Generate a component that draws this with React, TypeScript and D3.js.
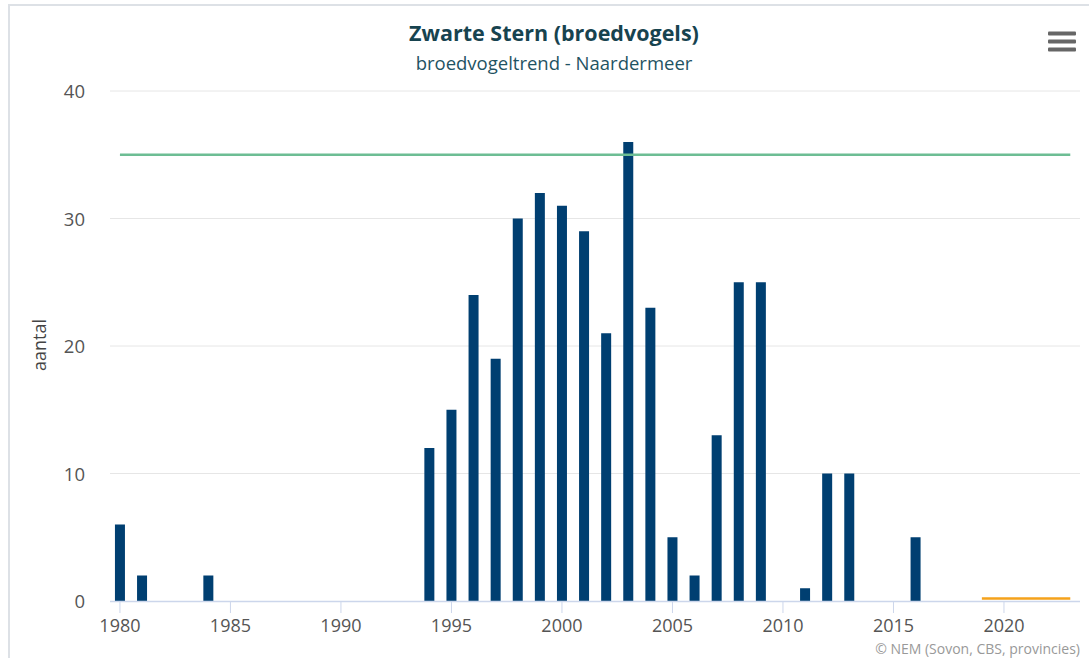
import React from "react";
import * as d3 from "d3";

const barYears = [1980, 1981, 1984, 1994, 1995, 1996, 1997, 1998, 1999, 2000, 2001, 2002, 2003, 2004, 2005, 2006, 2007, 2008, 2009, 2011, 2012, 2013, 2016];
const barValues = [6, 2, 2, 12, 15, 24, 19, 30, 32, 31, 29, 21, 36, 23, 5, 2, 13, 25, 25, 1, 10, 10, 5];

const targetYears = [1980, 1981, 1982, 1983, 1984, 1985, 1986, 1987, 1988, 1989, 1990, 1991, 1992, 1993, 1994, 1995, 1996, 1997, 1998, 1999, 2000, 2001, 2002, 2003, 2004, 2005, 2006, 2007, 2008, 2009, 2010, 2011, 2012, 2013, 2014, 2015, 2016, 2017, 2018, 2019, 2020, 2021, 2022, 2023];
const targetValues = [35, 35, 35, 35, 35, 35, 35, 35, 35, 35, 35, 35, 35, 35, 35, 35, 35, 35, 35, 35, 35, 35, 35, 35, 35, 35, 35, 35, 35, 35, 35, 35, 35, 35, 35, 35, 35, 35, 35, 35, 35, 35, 35, 35];

const recentYears = [2019, 2020, 2021, 2022, 2023];
const recentValues = [0.2, 0.2, 0.2, 0.2, 0.2];

const xTicks = [1980, 1985, 1990, 1995, 2000, 2005, 2010, 2015, 2020];
const yTicks = [0, 10, 20, 30, 40];

const title = "Zwarte Stern (broedvogels)";
const subtitle = "broedvogeltrend - Naardermeer";
const yTitle = "aantal";
const credit = "© NEM (Sovon, CBS, provincies)";

export default function App() {
  const W = 1089, H = 658;
  const left = 110, right = 1080, top = 91, bottom = 601;
  const x = d3.scaleLinear().domain([1979.55, 2023.44]).range([left, right]);
  const y = d3.scaleLinear().domain([0, 40]).range([bottom, top]);
  const barW = 10;
  const font = "'Open Sans', 'DejaVu Sans', sans-serif";

  const line = d3.line<[number, number]>().x(d => x(d[0])).y(d => y(d[1]));
  const targetPath = line(targetYears.map((yr, i) => [yr, targetValues[i]] as [number, number])) || "";
  const recentPath = line(recentYears.map((yr, i) => [yr, recentValues[i]] as [number, number])) || "";

  return (
    <svg width={W} height={H} style={{ position: "absolute", left: 0, top: 0, background: "#fff" }} fontFamily={font}>
      <rect x={9} y={5} width={W} height={H} fill="#fff" stroke="#dde1e6" strokeWidth={2} />
      <text x={554} y={41} textAnchor="middle" fontSize={21.5} fontWeight="bold" fill="#17434f">{title}</text>
      <text x={554} y={70} textAnchor="middle" fontSize={18.5} fill="#1f5363">{subtitle}</text>
      {[33.5, 41.5, 49.5].map((cy, i) => (
        <rect key={i} x={1048} y={cy - 2} width={28} height={4} rx={1} fill="#666" />
      ))}
      {yTicks.filter(t => t > 0).map(t => (
        <line key={t} x1={left} x2={right} y1={y(t)} y2={y(t)} stroke="#e6e6e6" strokeWidth={1} />
      ))}
      {yTicks.map(t => (
        <text key={t} x={85} y={y(t) + 7} textAnchor="end" fontSize={18.5} fill="#555">{t}</text>
      ))}
      <text transform={`translate(46,345) rotate(-90)`} textAnchor="middle" fontSize={18} fill="#444">{yTitle}</text>
      {barYears.map((yr, i) => (
        <rect key={yr} x={x(yr) - barW / 2} y={y(barValues[i])} width={barW} height={y(0) - y(barValues[i])} fill="#003f71" />
      ))}
      <path d={targetPath} fill="none" stroke="#6dbd94" strokeWidth={2.5} />
      <line x1={left} x2={right} y1={bottom + 0.5} y2={bottom + 0.5} stroke="#ccd6eb" strokeWidth={1.5} />
      <path d={recentPath} fill="none" stroke="#f5a21b" strokeWidth={2.5} />
      {xTicks.map(t => (
        <g key={t}>
          <line x1={x(t)} x2={x(t)} y1={bottom} y2={bottom + 12} stroke="#ccd6eb" strokeWidth={1} />
          <text x={x(t)} y={632} textAnchor="middle" fontSize={18} fill="#555">{t}</text>
        </g>
      ))}
      <text x={1080} y={654} textAnchor="end" fontSize={14} fill="#999">{credit}</text>
    </svg>
  );
}
